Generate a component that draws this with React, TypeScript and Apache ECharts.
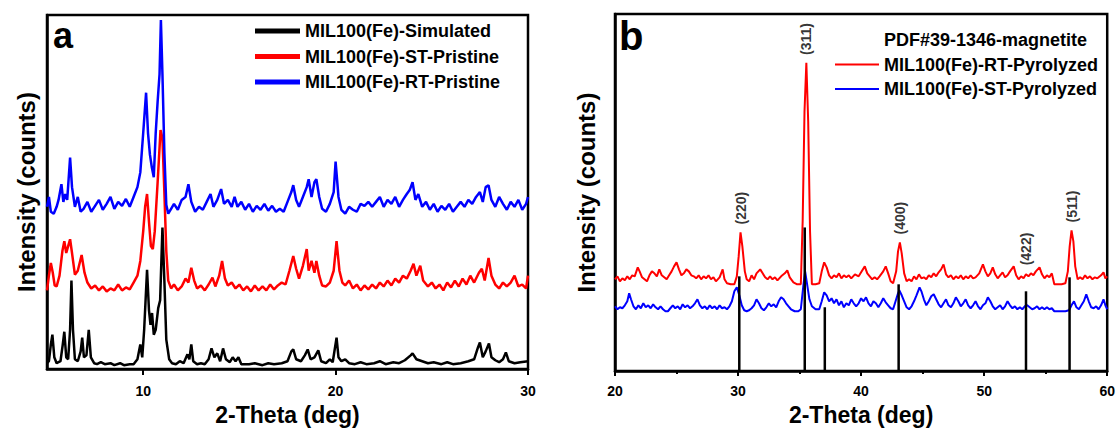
import React, { useEffect, useRef } from "react";
import * as echarts from "echarts";

// ---------- Panel a data (2θ, intensity offset) ----------
const simulatedA: number[][] = [
  [5.0,6],[5.1,8],[5.2,25],[5.28,35],[5.38,12],[5.5,6],[5.7,8],[5.82,25],[5.9,38],[6.0,12],[6.1,10],[6.2,40],[6.27,90],[6.35,40],[6.45,10],[6.6,8],[6.75,18],[6.83,32],[6.92,12],[7.05,14],[7.17,40],[7.28,12],[7.45,6],[7.6,5],[7.8,7],[8.0,5],[8.3,6],[8.5,4],[8.8,6],[9.0,4],[9.3,5],[9.5,5],[9.7,10],[9.85,25],[9.95,12],[10.05,40],[10.2,101],[10.3,60],[10.38,45],[10.46,57],[10.55,35],[10.65,40],[10.78,62],[10.88,70],[11.0,144],[11.1,90],[11.2,30],[11.35,10],[11.5,6],[11.7,5],[11.9,8],[12.1,6],[12.3,15],[12.4,10],[12.5,25],[12.6,8],[12.8,5],[13.0,6],[13.2,5],[13.4,10],[13.55,21],[13.7,12],[13.85,16],[14.0,8],[14.15,21],[14.3,10],[14.5,7],[14.65,12],[14.8,8],[14.95,12],[15.1,5],[15.5,5],[15.8,6],[16.2,4],[16.5,6],[16.8,5],[17.2,6],[17.5,8],[17.7,18],[17.8,20],[17.95,10],[18.2,8],[18.4,14],[18.55,20],[18.7,10],[18.9,12],[19.1,19],[19.25,8],[19.5,6],[19.7,10],[19.85,7],[20.05,32],[20.15,12],[20.3,8],[20.5,10],[20.7,6],[21.0,5],[21.3,7],[21.6,5],[22.0,6],[22.3,8],[22.6,5],[23.0,7],[23.3,6],[23.6,9],[23.9,14],[24.0,16],[24.2,10],[24.5,8],[24.8,6],[25.1,7],[25.5,5],[25.8,7],[26.1,5],[26.5,6],[26.9,8],[27.2,10],[27.4,22],[27.5,27],[27.65,12],[27.8,18],[27.97,26],[28.1,12],[28.3,9],[28.5,7],[28.7,10],[28.85,17],[29.0,8],[29.3,6],[29.6,7],[30.0,8],
];

const stPristineA: number[][] = [
  [5.0,80],[5.1,95],[5.2,108],[5.3,98],[5.4,85],[5.5,84],[5.65,95],[5.8,120],[5.9,130],[6.0,118],[6.1,125],[6.2,132],[6.3,118],[6.45,96],[6.6,100],[6.8,116],[6.95,98],[7.1,88],[7.3,82],[7.5,85],[7.7,80],[7.9,84],[8.1,79],[8.3,82],[8.5,80],[8.7,86],[8.9,80],[9.1,83],[9.3,81],[9.5,88],[9.7,95],[9.85,110],[10.0,140],[10.1,165],[10.2,178],[10.3,150],[10.4,125],[10.5,122],[10.6,140],[10.75,190],[10.9,243],[11.0,235],[11.1,180],[11.2,120],[11.3,90],[11.45,82],[11.6,86],[11.8,80],[12.0,84],[12.2,92],[12.35,88],[12.5,103],[12.65,90],[12.8,82],[13.0,85],[13.2,80],[13.4,86],[13.6,93],[13.75,84],[13.95,95],[14.1,110],[14.25,92],[14.4,85],[14.6,88],[14.8,82],[15.0,86],[15.2,80],[15.4,84],[15.6,79],[15.8,85],[16.0,80],[16.2,84],[16.4,80],[16.6,86],[16.8,81],[17.0,85],[17.2,88],[17.4,86],[17.6,100],[17.8,115],[17.95,102],[18.1,92],[18.3,105],[18.5,122],[18.6,100],[18.75,110],[18.9,98],[19.0,110],[19.15,95],[19.3,85],[19.5,84],[19.7,88],[19.9,100],[20.05,130],[20.2,100],[20.35,88],[20.5,85],[20.7,90],[20.9,82],[21.1,86],[21.3,80],[21.5,85],[21.7,81],[21.9,86],[22.1,82],[22.3,88],[22.5,84],[22.7,90],[22.9,85],[23.1,92],[23.3,88],[23.5,95],[23.7,92],[23.9,100],[24.05,107],[24.2,95],[24.4,105],[24.55,90],[24.8,84],[25.0,88],[25.2,82],[25.4,86],[25.6,80],[25.8,88],[26.0,83],[26.2,90],[26.4,84],[26.6,92],[26.8,86],[27.0,95],[27.2,88],[27.45,98],[27.6,102],[27.75,90],[27.95,113],[28.1,95],[28.3,86],[28.5,82],[28.7,88],[28.9,84],[29.1,88],[29.3,95],[29.5,84],[29.7,86],[29.9,82],[30.0,95],
];

const rtPristineA: number[][] = [
  [5.0,165],[5.1,175],[5.2,160],[5.35,158],[5.5,165],[5.6,172],[5.75,188],[5.85,170],[5.95,178],[6.05,172],[6.2,215],[6.3,185],[6.45,165],[6.6,175],[6.75,160],[6.9,163],[7.1,170],[7.3,160],[7.5,166],[7.7,172],[7.9,162],[8.1,168],[8.3,175],[8.5,163],[8.7,170],[8.9,166],[9.1,173],[9.3,165],[9.5,175],[9.7,185],[9.85,200],[10.0,240],[10.15,281],[10.25,240],[10.35,218],[10.45,205],[10.55,195],[10.65,240],[10.75,272],[10.85,300],[10.92,355],[11.0,300],[11.1,220],[11.2,167],[11.3,158],[11.45,163],[11.6,168],[11.8,162],[12.0,172],[12.2,175],[12.35,188],[12.5,170],[12.7,160],[12.9,165],[13.1,162],[13.3,170],[13.5,178],[13.65,165],[13.85,172],[14.05,183],[14.2,168],[14.4,172],[14.6,165],[14.75,175],[14.9,165],[15.1,170],[15.3,162],[15.5,168],[15.7,160],[15.9,166],[16.1,162],[16.3,168],[16.5,161],[16.7,166],[16.9,160],[17.1,163],[17.3,160],[17.5,170],[17.7,180],[17.8,187],[17.95,172],[18.1,165],[18.3,175],[18.5,185],[18.6,193],[18.75,175],[18.9,190],[19.0,193],[19.15,175],[19.3,163],[19.5,160],[19.7,168],[19.9,180],[20.0,211],[20.15,175],[20.3,162],[20.5,158],[20.7,165],[20.9,162],[21.1,160],[21.3,168],[21.5,166],[21.7,170],[21.9,165],[22.1,170],[22.3,175],[22.5,165],[22.7,172],[22.9,168],[23.1,175],[23.3,165],[23.5,172],[23.7,178],[23.85,182],[24.0,190],[24.15,172],[24.3,178],[24.5,165],[24.7,170],[24.9,162],[25.1,168],[25.3,160],[25.5,166],[25.7,162],[25.9,168],[26.1,160],[26.3,165],[26.5,170],[26.7,165],[26.9,172],[27.1,168],[27.3,175],[27.5,180],[27.65,170],[27.8,185],[27.95,187],[28.1,172],[28.3,165],[28.5,175],[28.7,168],[28.9,162],[29.1,170],[29.3,165],[29.5,172],[29.7,162],[29.9,168],[30.0,175],
];

// ---------- Panel b data ----------
const rtPyrolyzedB: number[][] = [
  [20.0,92],[20.2,95],[20.4,90],[20.6,93],[20.8,91],[21.0,95],[21.2,92],[21.4,96],[21.6,95],[21.85,104],[22.0,100],[22.2,94],[22.4,92],[22.6,90],[22.8,96],[23.0,100],[23.2,98],[23.4,95],[23.6,102],[23.8,96],[24.0,94],[24.2,92],[24.4,96],[24.6,100],[24.8,105],[25.0,109],[25.2,102],[25.4,96],[25.6,98],[25.8,102],[26.0,100],[26.2,96],[26.4,95],[26.6,93],[26.8,96],[27.0,92],[27.2,95],[27.4,93],[27.6,96],[27.8,92],[28.0,94],[28.2,90],[28.5,94],[28.75,102],[28.9,92],[29.1,88],[29.4,87],[29.7,87],[29.9,95],[30.05,115],[30.2,139],[30.35,125],[30.55,100],[30.7,92],[30.9,90],[31.1,96],[31.3,92],[31.5,98],[31.8,102],[32.0,98],[32.2,94],[32.4,92],[32.6,95],[32.8,92],[33.0,94],[33.2,91],[33.5,95],[33.8,98],[34.0,101],[34.2,94],[34.5,89],[34.8,87],[35.1,87],[35.25,150],[35.4,260],[35.55,309],[35.7,250],[35.85,140],[36.0,87],[36.3,87],[36.6,88],[36.8,100],[37.0,109],[37.2,104],[37.4,96],[37.6,93],[37.8,96],[38.0,94],[38.2,98],[38.4,93],[38.6,96],[38.8,94],[39.0,96],[39.2,93],[39.5,97],[39.8,95],[40.0,99],[40.3,105],[40.5,98],[40.7,95],[40.9,92],[41.1,94],[41.3,92],[41.5,95],[41.8,100],[42.0,105],[42.2,98],[42.4,90],[42.6,88],[42.85,100],[43.0,120],[43.15,129],[43.3,118],[43.5,98],[43.7,90],[43.9,92],[44.1,90],[44.3,95],[44.5,92],[44.7,97],[44.9,93],[45.1,94],[45.3,92],[45.5,96],[45.7,94],[45.9,98],[46.1,95],[46.3,99],[46.5,102],[46.7,107],[46.9,97],[47.1,94],[47.3,96],[47.5,92],[47.7,95],[47.9,93],[48.1,96],[48.3,92],[48.5,95],[48.7,93],[48.9,96],[49.1,93],[49.3,94],[49.6,98],[49.9,107],[50.1,100],[50.3,95],[50.5,98],[50.7,104],[50.9,97],[51.1,93],[51.3,96],[51.5,99],[51.7,94],[51.9,96],[52.1,100],[52.4,105],[52.6,96],[52.8,92],[53.0,95],[53.2,93],[53.4,97],[53.6,95],[53.8,98],[54.0,96],[54.2,100],[54.5,104],[54.7,97],[54.9,93],[55.1,96],[55.3,94],[55.5,98],[55.7,87],[56.0,87],[56.3,87],[56.6,88],[56.8,100],[56.95,125],[57.1,141],[57.25,130],[57.4,105],[57.6,92],[57.8,94],[58.0,92],[58.2,96],[58.4,93],[58.6,95],[58.8,92],[59.0,94],[59.2,93],[59.5,96],[59.7,99],[59.85,93],[60.0,95],
];

const stPyrolyzedB: number[][] = [
  [20.0,65],[20.2,62],[20.4,64],[20.6,63],[20.8,66],[21.0,70],[21.15,78],[21.3,72],[21.5,65],[21.7,62],[21.9,66],[22.1,63],[22.3,68],[22.5,64],[22.7,66],[22.9,63],[23.1,67],[23.3,64],[23.5,62],[23.7,65],[23.9,62],[24.1,60],[24.3,60],[24.5,63],[24.7,66],[24.9,63],[25.1,65],[25.3,62],[25.5,67],[25.7,64],[25.9,66],[26.1,63],[26.3,65],[26.5,68],[26.7,72],[26.9,66],[27.1,63],[27.3,65],[27.5,62],[27.7,66],[27.9,63],[28.1,65],[28.3,62],[28.5,66],[28.7,63],[28.9,64],[29.1,62],[29.3,65],[29.5,70],[29.7,80],[29.9,84],[30.1,76],[30.3,66],[30.5,61],[30.7,60],[30.9,61],[31.1,63],[31.3,66],[31.5,72],[31.7,68],[31.9,63],[32.1,61],[32.3,64],[32.5,68],[32.7,65],[32.9,67],[33.1,64],[33.3,70],[33.5,74],[33.7,72],[33.9,68],[34.1,65],[34.3,62],[34.6,60],[34.9,60],[35.1,62],[35.3,85],[35.45,100],[35.6,88],[35.8,72],[36.0,65],[36.3,62],[36.6,62],[36.8,70],[37.0,79],[37.2,76],[37.4,70],[37.6,73],[37.8,68],[38.0,72],[38.2,66],[38.4,70],[38.6,64],[38.8,68],[39.0,66],[39.2,72],[39.4,68],[39.6,65],[39.8,68],[40.0,73],[40.2,70],[40.4,74],[40.6,68],[40.8,65],[41.0,70],[41.2,68],[41.4,64],[41.6,68],[41.8,73],[42.0,69],[42.2,66],[42.4,63],[42.6,62],[42.8,70],[43.0,78],[43.1,81],[43.3,76],[43.5,70],[43.7,64],[43.9,62],[44.1,65],[44.3,70],[44.5,76],[44.75,84],[44.9,80],[45.1,72],[45.3,66],[45.5,70],[45.7,75],[45.9,77],[46.1,72],[46.3,67],[46.5,64],[46.7,68],[46.9,72],[47.1,66],[47.3,64],[47.5,68],[47.7,74],[47.9,70],[48.1,65],[48.3,68],[48.5,72],[48.7,66],[48.9,63],[49.1,66],[49.3,70],[49.5,65],[49.7,62],[49.9,66],[50.1,68],[50.3,74],[50.5,70],[50.7,65],[50.9,62],[51.1,64],[51.3,66],[51.5,62],[51.7,65],[51.9,70],[52.1,66],[52.3,63],[52.5,65],[52.7,62],[52.9,64],[53.1,62],[53.3,65],[53.5,66],[53.7,64],[53.9,62],[54.1,63],[54.3,65],[54.5,62],[54.7,64],[54.9,62],[55.1,64],[55.3,62],[55.5,63],[55.7,60],[56.0,60],[56.3,60],[56.6,60],[56.9,61],[57.1,66],[57.3,70],[57.5,64],[57.7,62],[57.9,66],[58.1,70],[58.3,77],[58.5,70],[58.7,64],[58.9,63],[59.1,65],[59.3,62],[59.5,66],[59.7,72],[59.85,66],[60.0,62],
];

const pdfPositions: number[] = [30.1, 35.42, 37.05, 43.05, 53.4, 56.94];
const pdfHeights: number[] = [95, 144, 64, 87, 80, 94];

const hklPositions: number[] = [30.2, 35.55, 43.15, 53.4, 57.1];
const hklLabels: string[] = ["(220)", "(311)", "(400)", "(422)", "(511)"];

const namesA = ["MIL100(Fe)-Simulated", "MIL100(Fe)-ST-Pristine", "MIL100(Fe)-RT-Pristine"];
const namesB = ["PDF#39-1346-magnetite", "MIL100(Fe)-RT-Pyrolyzed", "MIL100(Fe)-ST-Pyrolyzed"];
const ticksA = [10, 20, 30];

const FONT = "Arial, 'Liberation Sans', Helvetica, sans-serif";

function peakNear(data: number[][], x: number): number {
  let m = 0;
  for (const [px, py] of data) if (Math.abs(px - x) <= 0.45 && py > m) m = py;
  return m;
}

export default function App() {
  const ref = useRef<HTMLDivElement>(null);
  useEffect(() => {
    if (!ref.current) return;
    const chart = echarts.init(ref.current, null, { renderer: "svg" });
    const axisLine = { show: true, lineStyle: { color: "#000", width: 2.5 } };
    const tickLabel = { color: "#000", fontFamily: FONT, fontWeight: "bold" as const, fontSize: 14 };
    const nameStyle = { color: "#000", fontFamily: FONT, fontWeight: "bold" as const, fontSize: 23 };
    const yNameStyle = { ...nameStyle, fontSize: 24 };
    const legendText = { color: "#000", fontFamily: FONT, fontWeight: "bold" as const, fontSize: 18, lineHeight: 20 };
    const option: any = {
      animation: false,
      backgroundColor: "#fff",
      grid: [
        { left: 47, top: 15, width: 481, height: 360, show: true, borderColor: "#000", borderWidth: 2.5 },
        { left: 615, top: 14, width: 493, height: 358, show: true, borderColor: "#000", borderWidth: 2.5 },
      ],
      xAxis: [
        {
          type: "value", gridIndex: 0, min: 5, max: 30,
          axisLine, splitLine: { show: false },
          axisTick: { show: true, length: 6, customValues: ticksA, lineStyle: { color: "#000", width: 2 } },
          axisLabel: { ...tickLabel, margin: 15, customValues: ticksA },
          name: "2-Theta (deg)", nameLocation: "middle", nameGap: 30, nameTextStyle: nameStyle,
        },
        {
          type: "value", gridIndex: 1, min: 20, max: 60, interval: 10,
          axisLine, splitLine: { show: false },
          axisTick: { show: true, length: 5, lineStyle: { color: "#000", width: 2 } },
          minorTick: { show: true, splitNumber: 2, length: 3, lineStyle: { color: "#000", width: 2 } },
          axisLabel: { ...tickLabel, margin: 13 },
          name: "2-Theta (deg)", nameLocation: "middle", nameGap: 28, nameTextStyle: nameStyle,
        },
      ],
      yAxis: [
        {
          type: "value", gridIndex: 0, min: 0, max: 360,
          axisLine, axisTick: { show: false }, axisLabel: { show: false }, splitLine: { show: false },
          name: "Intensity (counts)", nameLocation: "middle", nameGap: 9, nameTextStyle: yNameStyle,
        },
        {
          type: "value", gridIndex: 1, min: 0, max: 358,
          axisLine, axisTick: { show: false }, axisLabel: { show: false }, splitLine: { show: false },
          name: "Intensity (counts)", nameLocation: "middle", nameGap: 17, nameTextStyle: yNameStyle,
        },
      ],
      legend: [
        {
          orient: "vertical", left: 250, top: 16, itemWidth: 45, itemHeight: 5, itemGap: 5.5,
          icon: "rect", selectedMode: false, textStyle: legendText,
          data: namesA,
        },
        {
          orient: "vertical", left: 830, top: 25, itemWidth: 44, itemHeight: 2, itemGap: 4.5,
          icon: "rect", selectedMode: false, textStyle: legendText,
          data: [
            { name: namesB[0], itemStyle: { opacity: 0 } },
            namesB[1],
            namesB[2],
          ],
        },
      ],
      series: [
        { name: namesA[0], type: "line", xAxisIndex: 0, yAxisIndex: 0, data: simulatedA, showSymbol: false, symbol: "none", lineStyle: { color: "#000", width: 2.5 }, itemStyle: { color: "#000" } },
        { name: namesA[1], type: "line", xAxisIndex: 0, yAxisIndex: 0, data: stPristineA, showSymbol: false, symbol: "none", lineStyle: { color: "#ff0000", width: 2.5 }, itemStyle: { color: "#ff0000" } },
        { name: namesA[2], type: "line", xAxisIndex: 0, yAxisIndex: 0, data: rtPristineA, showSymbol: false, symbol: "none", lineStyle: { color: "#0000ff", width: 2.5 }, itemStyle: { color: "#0000ff" } },
        { name: namesB[1], type: "line", xAxisIndex: 1, yAxisIndex: 1, data: rtPyrolyzedB, showSymbol: false, symbol: "none", lineStyle: { color: "#ff0000", width: 2 }, itemStyle: { color: "#ff0000" } },
        { name: namesB[2], type: "line", xAxisIndex: 1, yAxisIndex: 1, data: stPyrolyzedB, showSymbol: false, symbol: "none", lineStyle: { color: "#0000ff", width: 2 }, itemStyle: { color: "#0000ff" } },
        {
          name: namesB[0], type: "bar", xAxisIndex: 1, yAxisIndex: 1, barWidth: 2.5, z: 5,
          data: pdfPositions.map((p, i) => [p, pdfHeights[i]]), itemStyle: { color: "#000" },
        },
        {
          name: "hkl", type: "scatter", xAxisIndex: 1, yAxisIndex: 1, symbolSize: 0, z: 6,
          data: hklPositions.map((p, i) => ({ value: [p, peakNear(rtPyrolyzedB, p)], label: { formatter: hklLabels[i] } })),
          label: {
            show: true, position: "top", distance: 8, rotate: 90, align: "left", verticalAlign: "middle",
            color: "#000", fontFamily: FONT, fontWeight: "bold", fontSize: 14,
          },
        },
      ],
      graphic: [
        { type: "text", left: 53, top: 17, style: { text: "a", font: `bold 36px ${FONT}`, fill: "#000" } },
        { type: "text", left: 619, top: 16, style: { text: "b", font: `bold 40px ${FONT}`, fill: "#000" } },
      ],
    };
    chart.setOption(option);
    return () => chart.dispose();
  }, []);
  return <div ref={ref} style={{ position: "fixed", left: 0, top: 0, width: 1118, height: 431 }} />;
}
